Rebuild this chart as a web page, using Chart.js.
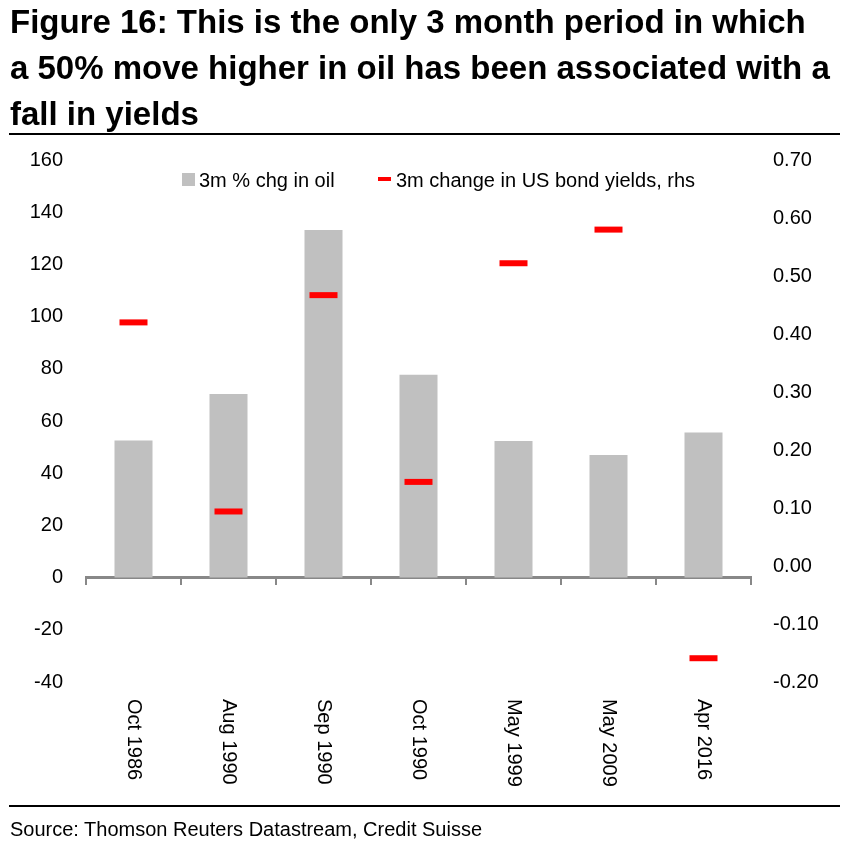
<!DOCTYPE html>
<html>
<head>
<meta charset="utf-8">
<script src="https://cdn.jsdelivr.net/npm/chart.js@4.4.1/dist/chart.umd.min.js"></script>
<style>
    body { margin: 0; width: 862px; height: 850px; position: relative; background: #fff; overflow: hidden;
           font-family: "Liberation Sans", Arial, sans-serif; color: #000; }
    #chartWrap { position: absolute; left: 0; top: 0; width: 862px; height: 850px; }
    #title { position: absolute; left: 10px; top: -1px; font-size: 33px; font-weight: bold; line-height: 46px; white-space: nowrap; }
    .rule { position: absolute; left: 9px; width: 831px; height: 2px; background: #000; }
    .legendText { position: absolute; top: 170px; font-size: 20px; line-height: 20px; white-space: nowrap; }
    #source { position: absolute; left: 10px; top: 819px; font-size: 20px; line-height: 20px; white-space: nowrap; }
</style>
</head>
<body>
<div id="chartWrap"><canvas id="oilChart"></canvas></div>

<div id="title">Figure 16: This is the only 3 month period in which<br>a 50% move higher in oil has been associated with a<br>fall in yields</div>
<div class="rule" style="top:133px;"></div>

<div style="position:absolute; left:182px; top:173px; width:13px; height:13px; background:#c0c0c0;"></div>
<div class="legendText" style="left:199px;">3m % chg in oil</div>
<div style="position:absolute; left:378px; top:177px; width:13px; height:4px; background:#ff0000;"></div>
<div class="legendText" style="left:396px;">3m change in US bond yields, rhs</div>

<div class="rule" style="top:805px;"></div>
<div id="source">Source: Thomson Reuters Datastream, Credit Suisse</div>

<script>
// ===== Chart data =====
const categories = ['Oct 1986', 'Aug 1990', 'Sep 1990', 'Oct 1990', 'May 1999', 'May 2009', 'Apr 2016'];
const oilChange = [52.5, 70.3, 133.2, 77.7, 52.3, 47.0, 55.6];
const yieldChange = [0.42, 0.094, 0.467, 0.145, 0.522, 0.58, -0.159];
const leftTicks = [-40, -20, 0, 20, 40, 60, 80, 100, 120, 140, 160];
const rightTicks = [-0.2, -0.1, 0, 0.1, 0.2, 0.3, 0.4, 0.5, 0.6, 0.7];

const FONT = '"Liberation Sans", Arial, sans-serif';

// Category labels, rotated to read top to bottom
const xLabelPlugin = {
    id: 'xLabels',
    afterDraw(chart) {
        const ctx = chart.ctx;
        const xs = chart.scales.x;
        ctx.save();
        ctx.font = '20px ' + FONT;
        ctx.fillStyle = '#000';
        ctx.textAlign = 'left';
        ctx.textBaseline = 'middle';
        categories.forEach((label, i) => {
            ctx.save();
            ctx.translate(xs.getPixelForValue(i), 699);
            ctx.rotate(Math.PI / 2);
            ctx.fillText(label, 0, 0);
            ctx.restore();
        });
        ctx.restore();
    }
};

new Chart(document.getElementById('oilChart'), {
    type: 'bar',
    data: {
        labels: categories,
        datasets: [
            {
                type: 'line',
                label: '3m change in US bond yields, rhs',
                data: yieldChange,
                yAxisID: 'y1',
                showLine: false,
                pointStyle: 'line',
                pointRadius: 14,
                pointBorderWidth: 6,
                pointBorderColor: '#ff0000',
                borderColor: '#ff0000',
                order: 0
            },
            {
                label: '3m % chg in oil',
                data: oilChange,
                yAxisID: 'y',
                backgroundColor: '#c0c0c0',
                barPercentage: 0.4,
                categoryPercentage: 1.0,
                order: 1
            }
        ]
    },
    options: {
        responsive: true,
        maintainAspectRatio: false,
        animation: false,
        events: [],
        layout: { padding: { top: 160, bottom: 168, left: 0, right: 0 } },
        plugins: {
            legend: { display: false },
            tooltip: { enabled: false }
        },
        scales: {
            x: {
                position: { y: 0 },
                offset: true,
                grid: { display: true, offset: true, drawOnChartArea: false, drawTicks: true, tickLength: 6, color: '#888888', lineWidth: 2 },
                border: { display: true, color: '#888888', width: 3 },
                ticks: { display: false },
                afterFit(scale) { scale.height = 0; }
            },
            y: {
                position: 'left',
                min: -40,
                max: 160,
                grid: { display: false, drawTicks: false },
                border: { display: false },
                ticks: { color: '#000', font: { size: 20, family: FONT }, padding: 23 },
                afterBuildTicks(scale) { scale.ticks = leftTicks.map(v => ({ value: v })); },
                afterFit(scale) { scale.width = 86; }
            },
            y1: {
                position: 'right',
                min: -0.2,
                max: 0.7,
                grid: { display: false, drawTicks: false },
                border: { display: false },
                ticks: { color: '#000', font: { size: 20, family: FONT }, padding: 22, callback: v => v.toFixed(2) },
                afterBuildTicks(scale) { scale.ticks = rightTicks.map(v => ({ value: v })); },
                afterFit(scale) { scale.width = 111; }
            }
        }
    },
    plugins: [xLabelPlugin]
});
</script>
</body>
</html>
